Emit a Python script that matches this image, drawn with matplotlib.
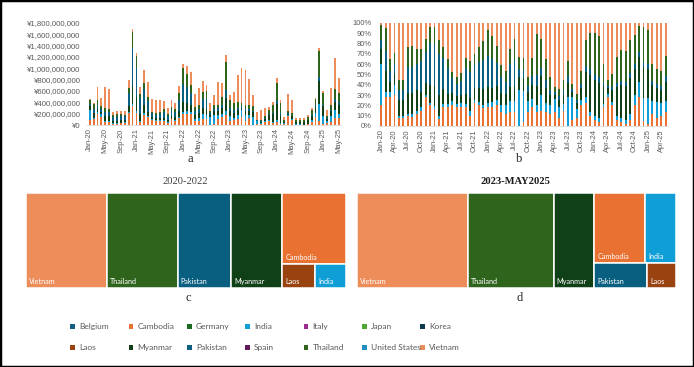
import numpy as np
import matplotlib.pyplot as plt
from matplotlib.patches import Rectangle
from matplotlib.ticker import FuncFormatter, MultipleLocator

# months Jan-20 .. May-25
mon = ["Jan", "Feb", "Mar", "Apr", "May", "Jun", "Jul", "Aug", "Sep", "Oct", "Nov", "Dec"]
months = [f"{m}-{y}" for y in range(20, 26) for m in mon][:65]

# monthly total (million yen)
total_m = [450, 386, 667, 468, 667, 632, 234, 246, 251, 246,
           784, 1696, 1269, 667, 965, 760, 450, 433, 433, 421,
           304, 444, 380, 690, 1070, 1041, 924, 538, 655, 772,
           702, 380, 526, 760, 743, 1240, 526, 585, 877, 1006,
           965, 801, 526, 234, 263, 292, 322, 398, 830, 439,
           146, 544, 439, 129, 117, 117, 175, 292, 480, 1363,
           596, 263, 655, 1181, 830]

# share of each origin (%)
cambodia = [20, 28, 28, 30, 8, 8, 10, 9, 12, 15, 28, 20, 16, 7, 18, 18, 20, 18, 18, 18,
            10, 22, 20, 17, 18, 18, 20, 14, 12, 14, 14, 0, 4, 14, 18, 14, 15, 14, 12, 14,
            8, 15, 0, 6, 8, 20, 22, 10, 6, 4, 18, 28, 20, 6, 4, 2, 6, 20, 28, 5,
            2, 12, 8, 10, 14]
india = [40, 5, 5, 10, 2, 2, 2, 3, 3, 3, 2, 2, 3, 3, 3, 3, 4, 3, 4, 3,
         5, 3, 3, 3, 4, 5, 5, 6, 8, 10, 10, 35, 30, 10, 8, 6, 15, 8, 8, 12,
         10, 6, 28, 22, 8, 5, 6, 4, 4, 4, 3, 3, 3, 4, 4, 4, 6, 10, 15, 22,
         25, 12, 15, 12, 10]
myanmar = [15, 20, 10, 10, 15, 15, 20, 20, 20, 15, 12, 18, 20, 20, 15, 10, 8, 8, 8, 10,
           12, 12, 14, 16, 16, 14, 14, 12, 11, 14, 15, 12, 12, 9, 14, 19, 18, 15, 10, 4,
           7, 9, 14, 5, 6, 12, 24, 35, 35, 34, 18, 6, 12, 28, 32, 33, 34, 25, 24, 30,
           28, 16, 14, 13, 19]
pakistan = [8, 20, 10, 10, 10, 10, 25, 25, 25, 30, 30, 40, 40, 40, 30, 25, 14, 12, 14, 25,
            25, 22, 25, 28, 30, 28, 22, 15, 12, 22, 25, 8, 8, 6, 8, 10, 8, 8, 5, 3,
            4, 5, 6, 3, 3, 4, 6, 6, 5, 5, 3, 2, 3, 4, 4, 4, 5, 5, 5, 5,
            5, 4, 4, 4, 5]
thailand = [15, 22, 12, 11, 10, 10, 19, 20, 15, 12, 12, 16, 17, 13, 10, 9, 6, 6, 7, 10,
            11, 11, 14, 18, 25, 22, 16, 12, 10, 15, 20, 12, 12, 8, 18, 40, 28, 20, 12, 5,
            7, 10, 15, 5, 6, 12, 25, 35, 40, 40, 18, 6, 12, 25, 30, 30, 32, 28, 25, 34,
            33, 16, 14, 14, 20]
vietnam = [2, 5, 35, 29, 55, 55, 24, 23, 25, 25, 16, 4, 4, 17, 24, 35, 48, 53, 49, 34,
           37, 30, 24, 18, 7, 13, 23, 41, 47, 25, 16, 33, 34, 53, 34, 11, 16, 35, 53, 62,
           64, 55, 37, 59, 69, 47, 17, 10, 10, 13, 40, 55, 50, 33, 26, 27, 17, 12, 3, 4,
           7, 40, 45, 47, 32]

# treemap shares (%)
tm_2020 = {"Vietnam": 25.2, "Thailand": 22.1, "Pakistan": 16.7, "Myanmar": 16.0,
           "Cambodia": 14.9, "Laos": 2.6, "India": 2.4}
tm_2023 = {"Vietnam": 35.0, "Thailand": 26.8, "Myanmar": 12.7, "Cambodia": 11.8,
           "India": 7.1, "Pakistan": 4.3, "Laos": 2.3}
# grouping used by the treemap layout: columns -> rows -> cells
cols_2020 = [[["Vietnam"]], [["Thailand"]], [["Pakistan"]], [["Myanmar"]],
             [["Cambodia"], ["Laos", "India"]]]
cols_2023 = [[["Vietnam"]], [["Thailand"]], [["Myanmar"]],
             [["Cambodia", "India"], ["Pakistan", "Laos"]]]

countries = ["Belgium", "Cambodia", "Germany", "India", "Italy", "Japan", "Korea",
             "Laos", "Myanmar", "Pakistan", "Spain", "Thailand", "United States", "Vietnam"]
colors = {"Belgium": "#156082", "Cambodia": "#E97132", "Germany": "#196B24",
          "India": "#0F9ED5", "Italy": "#A02B93", "Japan": "#4EA72E", "Korea": "#0D3A4F",
          "Laos": "#994311", "Myanmar": "#0F4016", "Pakistan": "#095F80", "Spain": "#601A58",
          "Thailand": "#2F641C", "United States": "#1F8EC0", "Vietnam": "#ED8D5A"}

stack = [("Cambodia", cambodia), ("India", india), ("Myanmar", myanmar),
         ("Pakistan", pakistan), ("Thailand", thailand), ("Vietnam", vietnam)]

W, H = 694, 367
fig = plt.figure(figsize=(W / 100, H / 100), dpi=100)
tick_col = "#595959"
sans = "Liberation Sans"
serif = "Liberation Serif"


def box(x0, y0, x1, y1):
    return [x0 / W, 1 - y1 / H, (x1 - x0) / W, (y1 - y0) / H]


def style_bar_axes(ax):
    for s in ["top", "right", "left"]:
        ax.spines[s].set_visible(False)
    ax.spines["bottom"].set_color("#D9D9D9")
    ax.spines["bottom"].set_linewidth(0.6)
    ax.tick_params(length=0, colors=tick_col, labelsize=5.4, pad=2.5)
    ax.tick_params(axis="y", pad=5)
    for lab in ax.get_yticklabels() + ax.get_xticklabels():
        lab.set_family(sans)


x = np.arange(len(months))
share = np.array([v for _, v in stack], dtype=float)
share = share / share.sum(axis=0) * 100
tot = np.array(total_m) * 1e6

# ---- panel a
ax_a = fig.add_axes(box(87.4, 22.7, 341.2, 125))
bottom = np.zeros(len(x))
for (name, _), sh in zip(stack, share):
    vals = tot * sh / 100
    ax_a.bar(x, vals, 0.48, bottom=bottom, color=colors[name], linewidth=0)
    bottom += vals
ax_a.set_xlim(-0.6, len(x) - 0.4)
ax_a.set_ylim(0, 1.8e9)
ax_a.yaxis.set_major_locator(MultipleLocator(2e8))
ax_a.yaxis.set_major_formatter(FuncFormatter(lambda v, p: f"¥{v:,.0f}"))
ax_a.set_xticks(x[::4])
ax_a.set_xticklabels(months[::4], rotation=90)
style_bar_axes(ax_a)
ax_a.tick_params(axis="y", labelsize=5.6)

# ---- panel b
ax_b = fig.add_axes(box(378.5, 22.7, 668.4, 126))
bottom = np.zeros(len(x))
for (name, _), sh in zip(stack, share):
    ax_b.bar(x, sh, 0.42, bottom=bottom, color=colors[name], linewidth=0)
    bottom += sh
ax_b.set_xlim(-0.6, len(x) - 0.4)
ax_b.set_ylim(0, 100)
ax_b.yaxis.set_major_locator(MultipleLocator(10))
ax_b.yaxis.set_major_formatter(FuncFormatter(lambda v, p: f"{v:.0f}%"))
ax_b.set_xticks(x[::3])
ax_b.set_xticklabels(months[::3], rotation=90)
style_bar_axes(ax_b)


# ---- treemaps
def treemap(ax, vals, cols):
    total = sum(vals.values())
    cx = 0.0
    for col in cols:
        csum = sum(vals[n] for row in col for n in row)
        cw = csum / total
        cy = 1.0
        for row in col:
            rsum = sum(vals[n] for n in row)
            rh = rsum / csum
            rx = cx
            for n in row:
                w = cw * vals[n] / rsum
                ax.add_patch(Rectangle((rx, cy - rh), w, rh, facecolor=colors[n],
                                       edgecolor="white", linewidth=1.1))
                ax.text(rx + 0.009, cy - rh + 0.07, n, color="white", fontsize=5.2,
                        family="Lato", va="center", ha="left")
                rx += w
            cy -= rh
        cx += cw
    ax.set_xlim(0, 1)
    ax.set_ylim(0, 1)
    ax.axis("off")


ax_c = fig.add_axes(box(26, 192.7, 346, 287.7))
treemap(ax_c, tm_2020, cols_2020)
ax_d = fig.add_axes(box(356.7, 192.7, 675.7, 287.7))
treemap(ax_d, tm_2023, cols_2023)

# ---- captions and titles
for lab, px, py in [("a", 190, 159), ("b", 519, 159), ("c", 188, 298), ("d", 520, 298)]:
    fig.text(px / W, 1 - py / H, lab, ha="center", va="center", family=serif,
             fontsize=9, color="#262626")
fig.text(185 / W, 1 - 182 / H, "2020-2022", ha="center", va="center", family=serif,
         fontsize=7.6, color="#404040")
fig.text(515 / W, 1 - 182 / H, "2023-MAY2025", ha="center", va="center", family=serif,
         fontsize=7.6, color="#1A1A1A", fontweight="bold")

# ---- legend
for i, name in enumerate(countries):
    r, c = divmod(i, 7)
    mx = 72.7 + c * 58.3
    my = 326.7 + r * 20.6
    fig.add_artist(Rectangle(((mx - 2.4) / W, 1 - (my + 2.4) / H), 4.8 / W, 4.8 / H,
                             transform=fig.transFigure, facecolor=colors[name],
                             edgecolor="none"))
    fig.text((mx + 6.5) / W, 1 - my / H, name, ha="left", va="center", family="Lato",
             fontsize=6, color=tick_col)

fig.add_artist(Rectangle((0, 0), 1, 1, transform=fig.transFigure, fill=False,
                         edgecolor="black", linewidth=2.5))

fig.savefig("out.png", dpi=100)
